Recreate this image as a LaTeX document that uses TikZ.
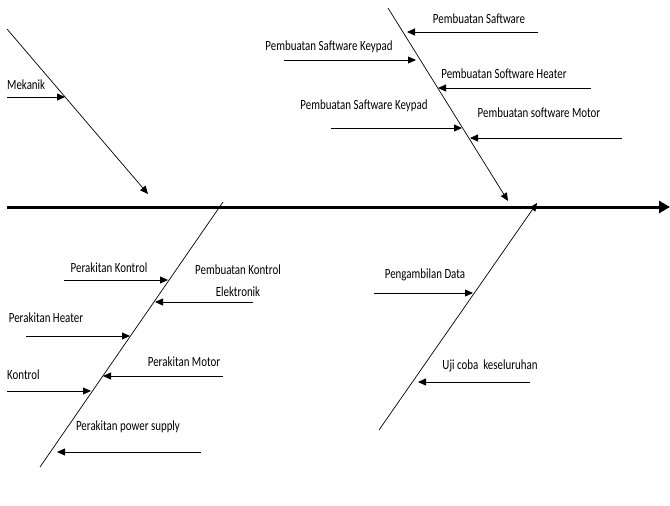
\documentclass[tikz,border=0pt]{standalone}
\usepackage{fontspec}
\setmainfont{Carlito}[FakeStretch=0.78]
\usetikzlibrary{arrows.meta}
\begin{document}
\begin{tikzpicture}[x=1pt,y=-1pt,
  lbl/.style={inner sep=0pt,font=\fontsize{14}{16}\selectfont},
  bone/.style={line width=0.7pt},
  cause/.style={line width=0.8pt,-{Triangle[length=8pt,width=7pt]}},
  bonearrow/.style={line width=0.7pt,-{Triangle[length=8pt,width=7pt]}},
  spine/.style={line width=3pt,-{Triangle[length=11pt,width=12pt]}}]
\useasboundingbox (0,0) rectangle (670,506);
% spine
\coordinate (s0) at (7,207);
\coordinate (s1) at (670,207);
\draw[spine] (s0) -- (s1);
% bones
\coordinate (tl0) at (7,29);   \coordinate (tl1) at (148,194);
\coordinate (tr0) at (388,8);  \coordinate (tr1) at (508,201);
\coordinate (ll0) at (40,467); \coordinate (ll1) at (223,202);
\coordinate (lr0) at (379,430);\coordinate (lr1) at (537,203);
\draw[bonearrow] (tl0) -- (tl1);
\draw[bonearrow] (tr0) -- (tr1);
\draw[bone] (ll0) -- (ll1);
\draw[bonearrow] (lr0) -- (lr1);
% top-left
\node[lbl,anchor=west] (mek) at (7,85) {Mekanik};
\coordinate (a1s) at (7,97); \coordinate (a1t) at (65,97);
\draw[cause] (a1s) -- (a1t);
% top-right
\node[lbl] (ps) at (479,19) {Pembuatan Saftware};
\coordinate (a2s) at (538,32); \coordinate (a2t) at (407,32);
\draw[cause] (a2s) -- (a2t);
\node[lbl] (pk1) at (329,47) {Pembuatan Saftware Keypad};
\coordinate (a3s) at (284,60); \coordinate (a3t) at (416,60);
\draw[cause] (a3s) -- (a3t);
\node[lbl] (psh) at (504,74) {Pembuatan Software Heater};
\coordinate (a4s) at (591,88); \coordinate (a4t) at (438,88);
\draw[cause] (a4s) -- (a4t);
\node[lbl] (pk2) at (364,106) {Pembuatan Saftware Keypad};
\coordinate (a5s) at (331,128); \coordinate (a5t) at (462,128);
\draw[cause] (a5s) -- (a5t);
\node[lbl] (psm) at (539,113) {Pembuatan software Motor};
\coordinate (a6s) at (622,138); \coordinate (a6t) at (470,138);
\draw[cause] (a6s) -- (a6t);
% lower-left
\node[lbl] (pkon) at (109,268) {Perakitan Kontrol};
\coordinate (b1s) at (64,280); \coordinate (b1t) at (168,280);
\draw[cause] (b1s) -- (b1t);
\node[lbl,align=center,font=\fontsize{14}{22}\selectfont] (pke) at (238,281) {Pembuatan Kontrol\\Elektronik};
\coordinate (b2s) at (253,302); \coordinate (b2t) at (155,302);
\draw[cause] (b2s) -- (b2t);
\node[lbl] (ph) at (46,318) {Perakitan Heater};
\coordinate (b3s) at (26,336); \coordinate (b3t) at (130,336);
\draw[cause] (b3s) -- (b3t);
\node[lbl] (pm) at (184,362) {Perakitan Motor};
\coordinate (b4s) at (223,376); \coordinate (b4t) at (103,376);
\draw[cause] (b4s) -- (b4t);
\node[lbl,anchor=west] (kon) at (7,375) {Kontrol};
\coordinate (b5s) at (7,391); \coordinate (b5t) at (91,391);
\draw[cause] (b5s) -- (b5t);
\node[lbl] (pps) at (128,427) {Perakitan power supply};
\coordinate (b6s) at (201,452); \coordinate (b6t) at (57,452);
\draw[cause] (b6s) -- (b6t);
% lower-right
\node[lbl] (pd) at (425,275) {Pengambilan Data};
\coordinate (c1s) at (374,293); \coordinate (c1t) at (473,293);
\draw[cause] (c1s) -- (c1t);
\node[lbl] (uji) at (490,366) {Uji coba\ \ keseluruhan};
\coordinate (c2s) at (530,382); \coordinate (c2t) at (418,382);
\draw[cause] (c2s) -- (c2t);
\end{tikzpicture}
\end{document}
